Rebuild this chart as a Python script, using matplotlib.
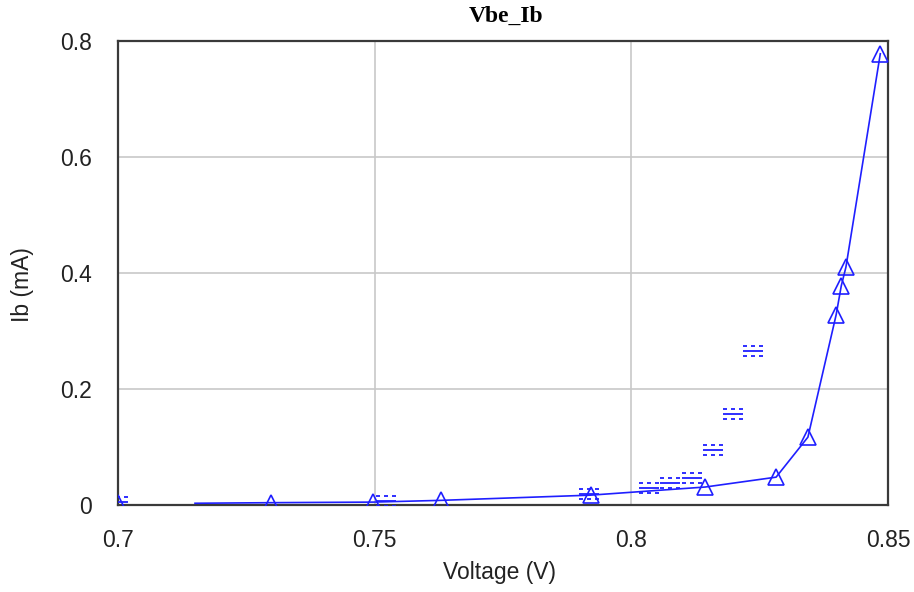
import matplotlib
matplotlib.use("Agg")
import matplotlib.pyplot as plt
from matplotlib.path import Path

# ---- data ----
# main curve (line) and its triangle markers
line_v = [0.715, 0.7298, 0.7497, 0.7629, 0.7921, 0.8144, 0.8282, 0.8344, 0.8399, 0.8409, 0.8418, 0.8485]
line_ib = [0.003, 0.004, 0.005, 0.008, 0.017, 0.031, 0.048, 0.117, 0.328, 0.378, 0.410, 0.778]
tri_v = [0.700, 0.7298, 0.7497, 0.7629, 0.7921, 0.8144, 0.8282, 0.8344, 0.8399, 0.8409, 0.8418, 0.8485]
tri_ib = [0.003, 0.004, 0.005, 0.008, 0.017, 0.031, 0.048, 0.117, 0.328, 0.378, 0.410, 0.778]
# second series, drawn with the "=" style markers
eq_v = [0.700, 0.7522, 0.7918, 0.8034, 0.8075, 0.8118, 0.8159, 0.8198, 0.8237]
eq_ib = [0.005, 0.007, 0.019, 0.029, 0.038, 0.047, 0.095, 0.157, 0.2655]

xticks = [0.7, 0.75, 0.8, 0.85]
xticklabels = ["0.7", "0.75", "0.8", "0.85"]
yticks = [0, 0.2, 0.4, 0.6, 0.8]
yticklabels = ["0", "0.2", "0.4", "0.6", "0.8"]

# ---- figure ----
W, H = 914, 592
fig = plt.figure(figsize=(W/100, H/100), dpi=100)
ax = fig.add_axes([118/W, 1-505/H, (888-118)/W, (505-41)/H])

blue = "#1f1fff"

ax.plot(line_v, line_ib, color=blue, lw=1.2, zorder=3)
ax.plot(tri_v, tri_ib, linestyle="none", marker="^", markersize=11,
        markerfacecolor="none", markeredgecolor=blue, markeredgewidth=1.2, zorder=4)

# "=" marker: dashed top, solid middle, dashed bottom
verts, codes = [], []
for y, segs in [(0.45, [(-1, -0.6), (-0.2, 0.2), (0.6, 1)]),
                (0.0, [(-1, 1)]),
                (-0.45, [(-1, -0.6), (-0.2, 0.2), (0.6, 1)])]:
    for a, b in segs:
        verts += [(a, y), (b, y)]
        codes += [Path.MOVETO, Path.LINETO]
eq_marker = Path(verts, codes)
ax.plot(eq_v, eq_ib, linestyle="none", marker=eq_marker, markersize=14.5,
        markerfacecolor="none", markeredgecolor=blue, markeredgewidth=1.3, zorder=4)

ax.set_xlim(0.7, 0.85)
ax.set_ylim(0, 0.8)
ax.set_xticks(xticks)
ax.set_xticklabels(xticklabels)
ax.set_yticks(yticks)
ax.set_yticklabels(yticklabels)
ax.tick_params(length=0, labelsize=16.5, colors="#222222")
ax.tick_params(axis="x", pad=17)
ax.tick_params(axis="y", pad=19)
for lab in ax.get_xticklabels() + ax.get_yticklabels():
    lab.set_fontfamily("Liberation Sans")

ax.grid(True, color="#c8c8c8", lw=1.2)
ax.set_axisbelow(True)
for s in ax.spines.values():
    s.set_color("#3a3a3a")
    s.set_linewidth(1.6)

fig.text(500/W, 1-572/H, "Voltage (V)", ha="center", va="center",
         fontsize=16.5, family="Liberation Sans", color="#222222")
fig.text(22/W, 1-285/H, "Ib (mA)", ha="center", va="center", rotation=90,
         fontsize=16.5, family="Liberation Sans", color="#222222")
fig.text(506/W, 1-16/H, "Vbe_Ib", ha="center", va="center",
         fontsize=17, fontweight="bold", family="Liberation Serif")

fig.savefig("out.png", dpi=100, facecolor="white")
